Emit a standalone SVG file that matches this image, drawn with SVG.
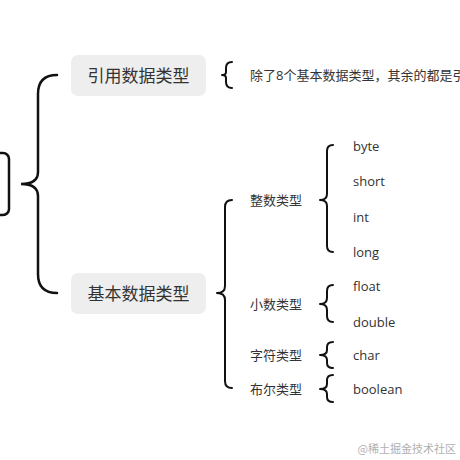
<svg xmlns="http://www.w3.org/2000/svg" width="460" height="460" viewBox="0 0 460 460">
<style>
.node rect{fill:#eeeeee;}
.big{font-family:"Open Sans","Noto Sans CJK SC",sans-serif;font-size:17px;fill:#333;text-anchor:middle;dominant-baseline:central;}
.t{font-family:"Open Sans","Noto Sans CJK SC",sans-serif;font-size:13px;fill:#333;dominant-baseline:central;}
.br{fill:none;stroke:#111;stroke-width:2;stroke-linecap:round;stroke-linejoin:round;}
.brb{fill:none;stroke:#111;stroke-width:2.5;stroke-linecap:round;}
.wm{font-family:"Noto Sans CJK SC",sans-serif;font-size:11px;fill:#b0b0b0;text-anchor:end;dominant-baseline:central;}
</style>
<rect width="460" height="460" fill="#fff"/>
<g id="root"><rect x="-50" y="153" width="59" height="62" rx="6" fill="#fff" stroke="#111" stroke-width="2.5"/></g>
<g id="connectors">
<path class="brb" d="M57 75 Q38 75 38 94 L38 172 Q38 184 21 184 Q38 184 38 196 L38 274 Q38 293 57 293"/>
<path class="br" d="M232 62 Q226 62 226 68 L226 72 Q226 75 222 75 Q226 75 226 78 L226 82 Q226 88 232 88"/>
<path class="br" d="M232 200 Q225 200 225 207 L225 286 Q225 293 217 293 Q225 293 225 300 L225 381 Q225 388 232 388"/>
<path class="br" d="M333 145 Q327 145 327 151 L327 194 Q327 200 320 200 Q327 200 327 206 L327 246 Q327 252 333 252"/>
<path class="br" d="M333 285 Q327 285 327 291 L327 298 Q327 304 320 304 Q327 304 327 310 L327 316 Q327 322 333 322"/>
<path class="br" d="M333 342 Q327 342 327 347 L327 350 Q327 355 320 355 Q327 355 327 360 L327 363 Q327 368 333 368"/>
<path class="br" d="M333 375 Q327 375 327 380 L327 384 Q327 389 320 389 Q327 389 327 394 L327 397 Q327 402 333 402"/>
</g>
<g id="n-ref" class="node"><rect x="71" y="55" width="135" height="41" rx="7"/><text class="big" x="138.5" y="75.5">引用数据类型</text></g>
<g id="n-ref-desc"><text class="t" x="250" y="75">除了8个基本数据类型，其余的都是引用数据类型</text></g>
<g id="n-basic" class="node"><rect x="71" y="273" width="135" height="41" rx="7"/><text class="big" x="138.5" y="293.5">基本数据类型</text></g>
<g id="n-int"><text class="t" x="250" y="200">整数类型</text></g>
<g id="n-float"><text class="t" x="250" y="304">小数类型</text></g>
<g id="n-char"><text class="t" x="250" y="355">字符类型</text></g>
<g id="n-bool"><text class="t" x="250" y="389">布尔类型</text></g>
<g id="n-byte"><text class="t" x="353" y="146">byte</text></g>
<g id="n-short"><text class="t" x="353" y="181">short</text></g>
<g id="n-intk"><text class="t" x="353" y="217">int</text></g>
<g id="n-long"><text class="t" x="353" y="252">long</text></g>
<g id="n-floatk"><text class="t" x="353" y="286">float</text></g>
<g id="n-double"><text class="t" x="353" y="322">double</text></g>
<g id="n-chark"><text class="t" x="353" y="355">char</text></g>
<g id="n-boolean"><text class="t" x="353" y="389">boolean</text></g>
<text class="wm" x="456" y="448">@稀土掘金技术社区</text>
</svg>
